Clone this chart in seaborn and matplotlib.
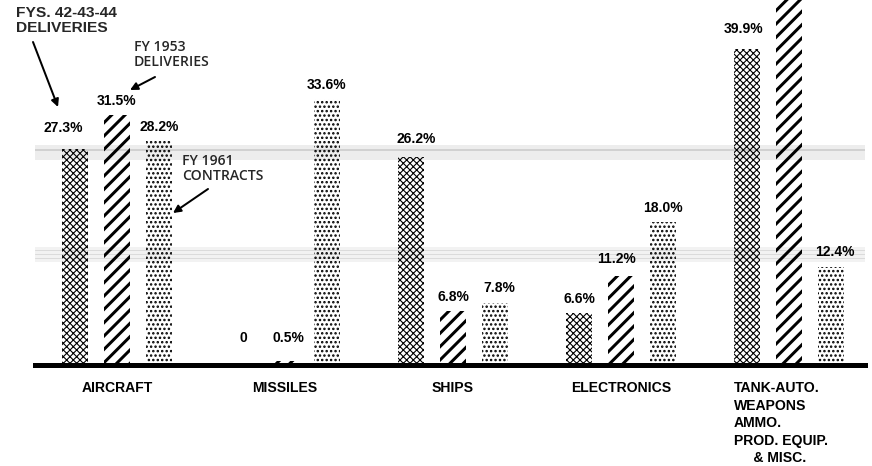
import matplotlib
matplotlib.use("Agg")
import matplotlib.pyplot as plt
import matplotlib.transforms as mtransforms
import pandas as pd
import seaborn as sns

# Share of procurement by program (percent of each period's total)
categories = ["AIRCRAFT", "MISSILES", "SHIPS", "ELECTRONICS", "TANK-AUTO."]
tick_labels = [
    "AIRCRAFT",
    "MISSILES",
    "SHIPS",
    "ELECTRONICS",
    "TANK-AUTO.\nWEAPONS\nAMMO.\nPROD. EQUIP.\n     & MISC.",
]
series = ["FYS. 42-43-44 DELIVERIES", "FY 1953 DELIVERIES", "FY 1961 CONTRACTS"]
fys_42_43_44 = [27.3, 0.0, 26.2, 6.6, 39.9]
fy_1953 = [31.5, 0.5, 6.8, 11.2, 50.0]
fy_1961 = [28.2, 33.6, 7.8, 18.0, 12.4]

df = pd.DataFrame(
    {
        "category": categories * 3,
        "series": [s for s in series for _ in categories],
        "pct": fys_42_43_44 + fy_1953 + fy_1961,
    }
)

DPI = 80
PT = 72 / DPI  # points per pixel
W, H = 872, 466
PX_PER_PCT = 7.93

sns.set_theme(style="white")
plt.rcParams["font.family"] = ["Liberation Sans", "DejaVu Sans"]

fig = plt.figure(figsize=(W / DPI, H / DPI), dpi=DPI)
fig.patch.set_facecolor("white")
ax = fig.add_axes([35 / W, 101 / H, 830 / W, 365 / H])
ax.set_facecolor("white")

# faint scanner streaks seen across the page
def px_to_val(y):
    return (365 - y) / PX_PER_PCT

ax.axhspan(px_to_val(160), px_to_val(145), color="0.93", lw=0, zorder=0)
ax.axhline(px_to_val(150), color="0.82", lw=2 * PT, zorder=0)
ax.axhspan(px_to_val(262), px_to_val(247), color="0.95", lw=0, zorder=0)
for yy in [250, 254, 258]:
    ax.axhline(px_to_val(yy), color="0.86", lw=1 * PT, zorder=0)

sns.barplot(
    data=df, x="category", y="pct", hue="series",
    order=categories, hue_order=series,
    palette=["white"] * 3, saturation=1,
    width=0.75, gap=0.38, legend=False, errorbar=None, ax=ax,
)

hatches = ["xxxx", "//", "..."]
hatch_lw = [1.1 * PT, 3.0 * PT, 1.6 * PT]
for container, hatch, hlw in zip(ax.containers, hatches, hatch_lw):
    for bar in container:
        bar.set_facecolor("none")
        bar.set_edgecolor("black")
        bar.set_linewidth(0)
        bar.set_hatch(hatch)
        if hasattr(bar, "set_hatch_linewidth"):
            bar.set_hatch_linewidth(hlw)
        bar.set_zorder(1)

# value labels (pixel nudges where the original sits differently)
nudges = {(0, 0): (-12, 21), (0, 1): (0, 27), (1, 1): (3, 23),
          (0, 2): (5, 18), (2, 2): (4, 15), (0, 4): (-3, 20),
          (2, 4): (4, 15), (1, 3): (-4, 17)}
values = [fys_42_43_44, fy_1953, fy_1961]
for j, container in enumerate(ax.containers):
    for i, bar in enumerate(container):
        v = values[j][i]
        text = "0" if v == 0 else f"{v:.1f}%"
        dx, dy = nudges.get((j, i), (0, 14))
        ax.annotate(
            text, (bar.get_x() + bar.get_width() / 2, bar.get_height()),
            xytext=(dx, dy), textcoords="offset pixels",
            ha="center", va="center", fontsize=13.9 * PT,
            fontweight="bold", color="black",
        )

ax.set_ylim(0, 365 / PX_PER_PCT)
ax.set_xlim((35 - 117) / 168, (865 - 117) / 168)
ax.set_xticks(range(len(categories)))
ax.set_xticklabels(tick_labels, fontweight="bold", fontsize=14 * PT,
                   linespacing=1.32, multialignment="left")
ax.tick_params(axis="x", length=0, pad=16 * PT, colors="black")
ax.tick_params(axis="y", left=False, labelleft=False)
last = ax.get_xticklabels()[-1]
last.set_transform(last.get_transform()
                   + mtransforms.ScaledTranslation(-8 / DPI, 0, fig.dpi_scale_trans))
ax.set_xlabel("")
ax.set_ylabel("")
for side in ["left", "top", "right"]:
    ax.spines[side].set_visible(False)
ax.spines["bottom"].set_linewidth(5 * PT)
ax.spines["bottom"].set_color("black")

# series call-outs with arrows
fig.text(16 / W, 1 - 6 / H, "FYS. 42-43-44\nDELIVERIES", ha="left", va="top",
         fontsize=15.5 * PT, fontweight="bold", linespacing=1.05)
fig.text(134 / W, 1 - 40 / H, "FY 1953\nDELIVERIES", ha="left", va="top",
         fontsize=14 * PT, fontweight="semibold", linespacing=1.1,
         family=["Open Sans", "Liberation Sans", "DejaVu Sans"])
fig.text(182 / W, 1 - 154 / H, "FY 1961\nCONTRACTS", ha="left", va="top",
         fontsize=14 * PT, fontweight="semibold", linespacing=1.1,
         family=["Open Sans", "Liberation Sans", "DejaVu Sans"])

arrows = [((33, 42), (58, 107)), ((155, 77), (130, 90)), ((208, 189), (173, 213))]
for (x1, y1), (x2, y2) in arrows:
    ax.annotate(
        "", xy=(x2, H - y2), xytext=(x1, H - y1),
        xycoords="figure pixels", textcoords="figure pixels",
        arrowprops=dict(arrowstyle="-|>", color="black", lw=2 * PT,
                        mutation_scale=14, shrinkA=0, shrinkB=0),
        annotation_clip=False,
    )

fig.savefig("out.png", dpi=DPI)
